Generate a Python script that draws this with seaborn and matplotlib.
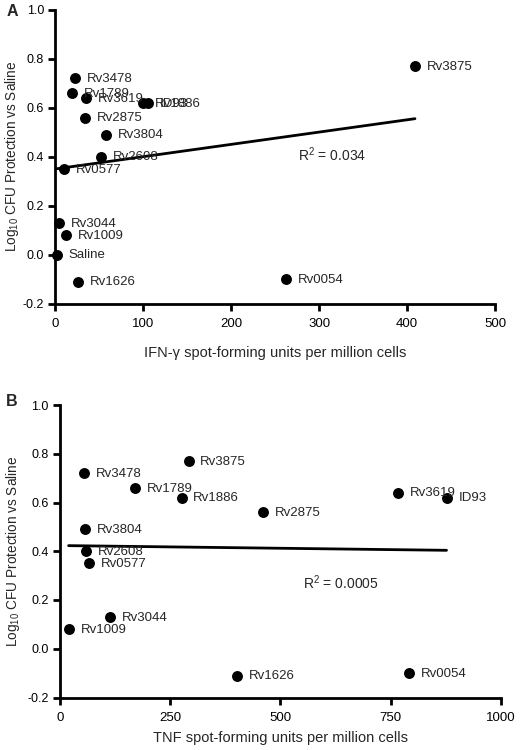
import numpy as np
import pandas as pd
import matplotlib
matplotlib.use("Agg")
import matplotlib.pyplot as plt
import seaborn as sns

# ---- data ----
antigens_A = ["Saline", "Rv3044", "Rv1009", "Rv0577", "Rv1626", "Rv3478", "Rv1789",
              "Rv3619", "Rv1886", "ID93", "Rv2875", "Rv3804", "Rv2608", "Rv3875", "Rv0054"]
ifn_sfu = [2, 4.5, 12, 10.6, 26.5, 22.7, 19.7, 35, 100, 105, 34, 57.6, 52.3, 409, 262.5]
protection_A = [0.0, 0.13, 0.08, 0.35, -0.11, 0.72, 0.66, 0.64, 0.62, 0.62, 0.56, 0.49,
                0.40, 0.77, -0.10]

antigens_B = ["Rv3875", "Rv3478", "Rv1789", "Rv1886", "Rv2875", "Rv3804", "Rv2608",
              "Rv0577", "Rv3619", "ID93", "Rv3044", "Rv1009", "Rv1626", "Rv0054"]
tnf_sfu = [292, 55, 170, 276, 460, 57, 59, 66, 766, 877, 113, 20, 401, 791]
protection_B = [0.77, 0.72, 0.66, 0.62, 0.56, 0.49, 0.40, 0.35, 0.64, 0.62, 0.13, 0.08,
                -0.11, -0.10]

r2_A = "R$^2$ = 0.034"
r2_B = "R$^2$ = 0.0005"
yticks = [-0.2, 0.0, 0.2, 0.4, 0.6, 0.8, 1.0]
xticks_A = [0, 100, 200, 300, 400, 500]
xticks_B = [0, 250, 500, 750, 1000]

dfA = pd.DataFrame({"antigen": antigens_A, "x": ifn_sfu, "y": protection_A})
dfB = pd.DataFrame({"antigen": antigens_B, "x": tnf_sfu, "y": protection_B})

sns.set_style("ticks")
plt.rcParams["font.family"] = ["Liberation Sans", "DejaVu Sans"]
plt.rcParams["mathtext.fontset"] = "custom"
plt.rcParams["mathtext.rm"] = "Liberation Sans"
plt.rcParams["mathtext.it"] = "Liberation Sans:italic"

fig = plt.figure(figsize=(5.2, 7.5), dpi=100)
axA = fig.add_axes([0.106, 0.595, 0.846, 0.392])
axB = fig.add_axes([0.115, 0.070, 0.848, 0.390])


def style(ax, xt, xlabel, labelpad, ylabelpad):
    ax.set_ylim(-0.2, 1.0)
    ax.set_xlim(xt[0], xt[-1])
    ax.set_yticks(yticks)
    ax.set_yticklabels([f"{t:.1f}" for t in yticks])
    ax.set_xticks(xt)
    for s in ["top", "right"]:
        ax.spines[s].set_visible(False)
    for s in ["left", "bottom"]:
        ax.spines[s].set_linewidth(2.0)
        ax.spines[s].set_color("black")
    ax.tick_params(axis="both", width=2.0, length=5, colors="black")
    ax.tick_params(axis="y", labelsize=9, pad=3)
    ax.tick_params(axis="x", labelsize=9.5, pad=5.5)
    ax.set_xlabel(xlabel, fontsize=10.5, labelpad=labelpad)
    ax.set_ylabel("Log$_{10}$ CFU Protection vs Saline", fontsize=9.8, labelpad=ylabelpad)


def draw(ax, df, r2, r2xy):
    sns.regplot(data=df, x="x", y="y", ax=ax, scatter=False, ci=None, truncate=True,
                line_kws={"color": "black", "lw": 2.0})
    sns.scatterplot(data=df, x="x", y="y", ax=ax, s=62, color="black",
                    edgecolor="black", linewidth=0, clip_on=False, zorder=3)
    for _, r in df.iterrows():
        ax.annotate(r["antigen"], (r["x"], r["y"]), xytext=(8.5, -0.5),
                    textcoords="offset points", ha="left", va="center", fontsize=9.5,
                    annotation_clip=False)
    ax.text(r2xy[0], r2xy[1], r2, ha="left", va="center", fontsize=10)


draw(axA, dfA, r2_A, (276, 0.41))
style(axA, xticks_A, "IFN-γ spot-forming units per million cells", 11, 1.5)
draw(axB, dfB, r2_B, (552, 0.273))
style(axB, xticks_B, "TNF spot-forming units per million cells", 5, 4)

fig.text(0.012, 0.984, "A", fontsize=11.5, fontweight="bold", va="center", ha="left")
fig.text(0.012, 0.465, "B", fontsize=11.5, fontweight="bold", va="center", ha="left")

fig.savefig("out.png", dpi=100)
